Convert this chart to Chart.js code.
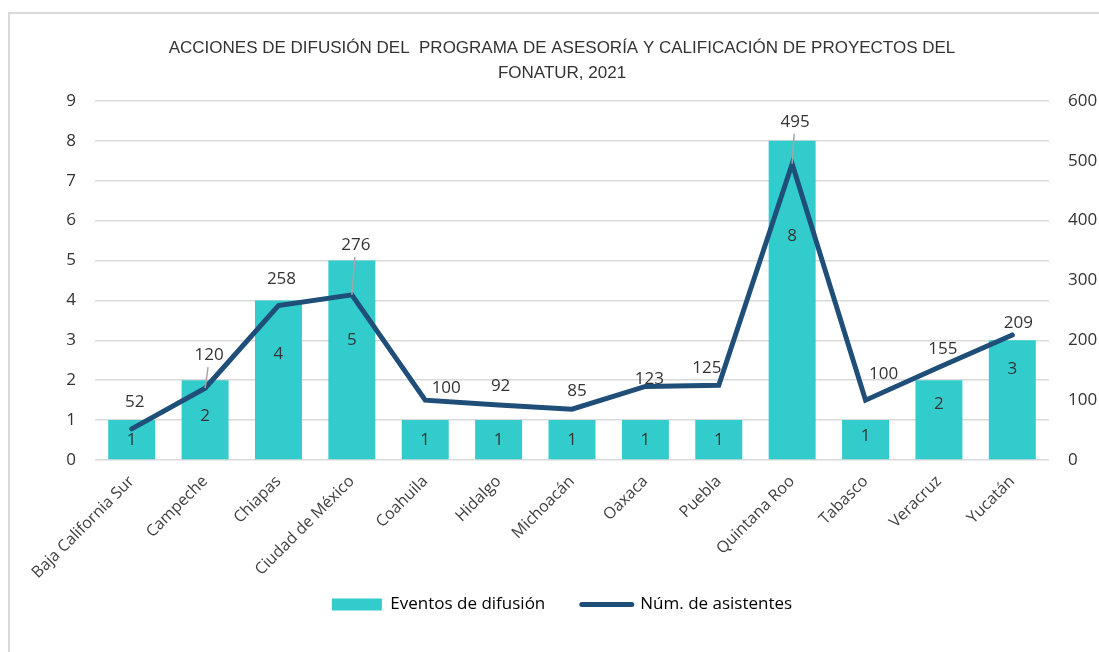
<!DOCTYPE html>
<html>
<head>
<meta charset="utf-8">
<script src="https://cdn.jsdelivr.net/npm/chart.js@4"></script>
<style>
  html, body { margin: 0; padding: 0; background: #fff; overflow: hidden; }
  #frame { position: absolute; left: 8px; top: 12px; width: 1200px; height: 700px; border: 2px solid #d9d9d9; box-sizing: border-box; }
  #wrap { position: absolute; left: 0; top: 0; width: 1124px; height: 652px; }
</style>
</head>
<body>
<div id="frame"></div>
<div id="wrap"><canvas id="chart" width="1124" height="652"></canvas></div>
<script>
const estados = ['Baja California Sur', 'Campeche', 'Chiapas', 'Ciudad de México', 'Coahuila', 'Hidalgo',
    'Michoacán', 'Oaxaca', 'Puebla', 'Quintana Roo', 'Tabasco', 'Veracruz', 'Yucatán'];
const eventos = [1, 2, 4, 5, 1, 1, 1, 1, 1, 8, 1, 2, 3];
const asistentes = [52, 120, 258, 276, 100, 92, 85, 123, 125, 495, 100, 155, 209];
const ticksEventos = [0, 1, 2, 3, 4, 5, 6, 7, 8, 9];
const ticksAsistentes = [0, 100, 200, 300, 400, 500, 600];

// where the labels sit (Excel moved a few of them around)
const barLabelPos = [0.5, 0.54, 0.66, 0.6, 0.5, 0.5, 0.5, 0.5, 0.5, 0.7, 0.6, 0.7, 0.76];
const lineLabelOffset = [[3, -27], [4, -33], [3, -26], [4, -50], [21, -12], [2, -19], [5, -18],
    [4, -7], [-12, -17], [3, -42], [18, -26], [4, -18], [6, -12]];
const withLeader = [1, 3, 9];

const labelFont = '17px "Open Sans", "Noto Sans", sans-serif';

const dataLabels = {
    id: 'dataLabels',
    afterDatasetsDraw(chart) {
        let ctx = chart.ctx;
        ctx.save();
        ctx.font = labelFont;
        ctx.fillStyle = '#333333';
        ctx.textAlign = 'center';
        ctx.textBaseline = 'middle';
        let bars = chart.getDatasetMeta(0).data;
        bars.forEach(function (bar, i) {
            let y = bar.base - barLabelPos[i] * (bar.base - bar.y);
            ctx.fillText(eventos[i], bar.x, y);
        });
        let pts = chart.getDatasetMeta(1).data;
        pts.forEach(function (p, i) {
            let lx = p.x + lineLabelOffset[i][0];
            let ly = p.y + lineLabelOffset[i][1];
            if (withLeader.includes(i)) {
                ctx.strokeStyle = '#a6a6a6';
                ctx.lineWidth = 1.5;
                ctx.beginPath();
                ctx.moveTo(lx - 1, ly + 12);
                ctx.lineTo(p.x, p.y);
                ctx.stroke();
            }
            ctx.fillText(asistentes[i], lx, ly);
        });
        ctx.restore();
    }
};

let ctx = document.getElementById('chart').getContext('2d');
let myChart = new Chart(ctx, {
    type: 'bar',
    data: {
        labels: estados,
        datasets: [{
            label: 'Eventos de difusión',
            data: eventos,
            backgroundColor: '#33CCCC',
            borderWidth: 0,
            categoryPercentage: 1,
            barPercentage: 0.64,
            yAxisID: 'y',
            order: 2
        }, {
            type: 'line',
            label: 'Núm. de asistentes',
            data: asistentes,
            borderColor: '#1F4E79',
            backgroundColor: '#1F4E79',
            borderWidth: 5,
            borderCapStyle: 'round',
            borderJoinStyle: 'miter',
            pointRadius: 0,
            tension: 0,
            yAxisID: 'y1',
            order: 1
        }]
    },
    options: {
        responsive: false,
        animation: false,
        layout: {
            padding: { left: 0, right: 0, top: 0, bottom: 29 }
        },
        plugins: {
            title: {
                display: true,
                text: ['ACCIONES DE DIFUSIÓN DEL  PROGRAMA DE ASESORÍA Y CALIFICACIÓN DE PROYECTOS DEL', 'FONATUR, 2021'],
                color: '#333333',
                font: { family: '"Liberation Sans", Arial, sans-serif', size: 17, weight: 'normal', lineHeight: 1.47 },
                padding: { top: 36, bottom: 15 }
            },
            legend: {
                position: 'bottom',
                labels: {
                    color: '#595959',
                    font: { family: '"Open Sans", "Noto Sans", sans-serif', size: 17 },
                    padding: 10,
                    usePointStyle: true,
                    pointStyleWidth: 50,
                    boxHeight: 12,
                    generateLabels: function (chart) {
                        return [{
                            // trailing spaces widen the gap before the second item
                            text: 'Eventos de difusión      ',
                            fillStyle: '#33CCCC',
                            strokeStyle: '#33CCCC',
                            lineWidth: 0,
                            pointStyle: 'rect',
                            datasetIndex: 0
                        }, {
                            text: 'Núm. de asistentes',
                            fillStyle: '#1F4E79',
                            strokeStyle: '#1F4E79',
                            lineWidth: 5,
                            lineCap: 'round',
                            pointStyle: 'line',
                            datasetIndex: 1
                        }];
                    }
                }
            },
            tooltip: { enabled: false }
        },
        scales: {
            x: {
                grid: { display: false },
                border: { display: false },
                ticks: {
                    color: '#404040',
                    font: { family: '"Open Sans", "Noto Sans", sans-serif', size: 16 },
                    maxRotation: 45,
                    minRotation: 45,
                    autoSkip: false,
                    padding: 4
                },
                afterFit: function (scale) { scale.height = 126; }
            },
            y: {
                position: 'left',
                min: 0,
                max: 9,
                afterBuildTicks: function (scale) { scale.ticks = ticksEventos.map(v => ({ value: v })); },
                grid: { color: '#d9d9d9', lineWidth: 1.5, drawTicks: false },
                border: { display: false },
                ticks: {
                    color: '#333333',
                    font: { family: '"Open Sans", "Noto Sans", sans-serif', size: 17 },
                    padding: 19
                },
                afterFit: function (scale) { scale.width = 95; }
            },
            y1: {
                position: 'right',
                min: 0,
                max: 600,
                afterBuildTicks: function (scale) { scale.ticks = ticksAsistentes.map(v => ({ value: v })); },
                grid: { display: false, drawTicks: false },
                border: { display: false },
                ticks: {
                    color: '#333333',
                    font: { family: '"Open Sans", "Noto Sans", sans-serif', size: 17 },
                    padding: 19
                },
                afterFit: function (scale) { scale.width = 75; }
            }
        }
    },
    plugins: [dataLabels]
});
</script>
</body>
</html>
